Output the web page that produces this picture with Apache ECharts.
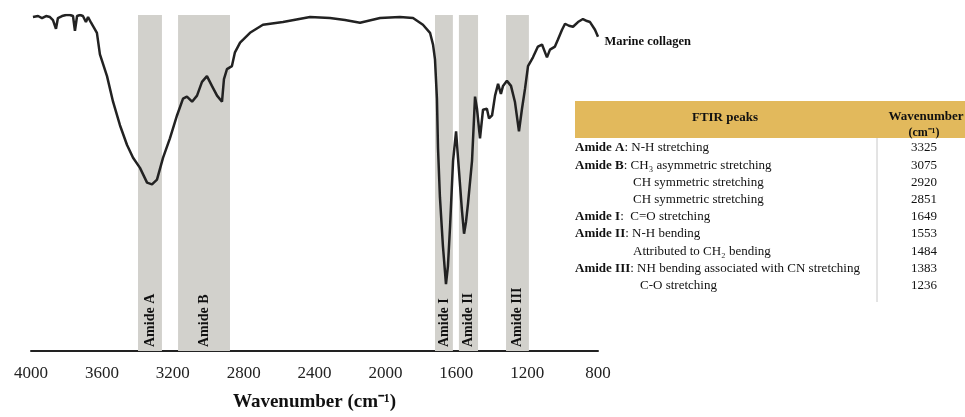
<!DOCTYPE html>
<html>
<head>
<meta charset="utf-8">
<script src="https://cdn.jsdelivr.net/npm/echarts@6/dist/echarts.min.js"></script>
<style>
    html, body { margin: 0; padding: 0; background: #fff; }
    #chart { width: 965px; height: 417px; }
</style>
</head>
<body>
<div id="chart"></div>
<script>
// spectrum (wavenumber cm-1 / relative transmittance)
const wavenumbers = [3989, 3960, 3938, 3915, 3893, 3876, 3859, 3848, 3825, 3802, 3780, 3763, 3752, 3740, 3723, 3707, 3690, 3678, 3661, 3644, 3628, 3611, 3571, 3537, 3498, 3458, 3424, 3385, 3345, 3317, 3289, 3255, 3216, 3176, 3142, 3120, 3091, 3063, 3035, 3007, 2979, 2950, 2922, 2911, 2894, 2866, 2849, 2820, 2764, 2691, 2578, 2425, 2313, 2228, 2143, 2030, 1918, 1844, 1788, 1748, 1731, 1720, 1709, 1703, 1692, 1675, 1658, 1647, 1635, 1618, 1601, 1590, 1568, 1556, 1545, 1534, 1511, 1494, 1483, 1466, 1449, 1427, 1415, 1398, 1381, 1364, 1348, 1336, 1314, 1291, 1269, 1246, 1229, 1212, 1195, 1167, 1139, 1116, 1088, 1071, 1043, 1026, 1003, 986, 964, 941, 913, 885, 862, 845, 817, 800]
const transmittance = [99.4, 99.7, 99.1, 99.7, 99.4, 98.5, 95.9, 99.1, 99.7, 100, 100, 99.7, 95.3, 99.7, 100, 99.7, 97.9, 99.4, 97.7, 96.2, 94.7, 88.3, 81.8, 74.2, 67.2, 61.3, 57.5, 54.5, 50.1, 49.6, 51.0, 57.5, 63.3, 70.1, 75.1, 75.7, 74.2, 76.0, 80.1, 81.8, 78.9, 76.0, 74.2, 80.9, 83.9, 84.8, 88.9, 91.8, 94.7, 97.1, 97.9, 99.4, 99.1, 98.5, 97.7, 99.1, 99.4, 99.1, 97.1, 94.7, 91.2, 86.8, 75.1, 60.4, 45.7, 31.1, 19.9, 25.2, 37.0, 56.6, 65.4, 57.5, 41.9, 34.9, 38.4, 43.7, 56.6, 75.7, 72.1, 63.3, 71.8, 72.1, 69.2, 70.1, 76.0, 79.5, 76.5, 78.9, 80.4, 78.9, 74.2, 65.4, 72.1, 78.0, 84.8, 87.4, 90.6, 91.2, 87.4, 89.7, 90.6, 92.7, 95.6, 97.4, 96.8, 96.5, 97.9, 98.8, 98.2, 97.9, 95.6, 93.5]

// shaded bands
const bandNames = ['Amide A', 'Amide B', 'Amide I', 'Amide II', 'Amide III']
const bandFrom = [3396, 3170, 1720, 1585, 1319]
const bandTo = [3261, 2877, 1619, 1477, 1190]

// table of peaks
const peakGroups = ['Amide A', 'Amide B', '', '', 'Amide I', 'Amide II', '', 'Amide III', '']
const peakModes = [': N-H stretching', ': CH₃ asymmetric stretching', 'CH symmetric stretching', 'CH symmetric stretching', ':  C=O stretching', ': N-H bending', 'Attributed to CH₂ bending', ': NH bending associated with CN stretching', 'C-O stretching']
const peakValues = [3325, 3075, 2920, 2851, 1649, 1553, 1484, 1383, 1236]

const serif = "'Liberation Serif', 'Times New Roman', serif"
const chart = echarts.init(document.getElementById('chart'))

const tableItems = [
    { type: 'rect', shape: { x: 575, y: 101, width: 400, height: 37 }, style: { fill: '#e2b95c' } },
    { type: 'text', x: 725, y: 118, style: { text: 'FTIR peaks', font: 'bold 13px ' + serif, fill: '#111', align: 'center', verticalAlign: 'middle' } },
    { type: 'text', x: 926, y: 117, style: { text: 'Wavenumber', font: 'bold 13px ' + serif, fill: '#111', align: 'center', verticalAlign: 'middle' } },
    { type: 'text', x: 924, y: 133, style: { text: '(cm⁻¹)', font: 'bold 12px ' + serif, fill: '#111', align: 'center', verticalAlign: 'middle' } },
    { type: 'line', shape: { x1: 877, y1: 138, x2: 877, y2: 302 }, style: { stroke: '#c8c8c8', lineWidth: 1 } },
]
peakModes.forEach((mode, i) => {
    const y = 148 + i * 17.2
    const group = peakGroups[i]
    let x = 575
    if (!group) x = i === 8 ? 640 : 633
    tableItems.push({
        type: 'text', x: x, y: y,
        style: {
            text: group ? '{b|' + group + '}' + mode : mode,
            font: '13px ' + serif, fill: '#111', verticalAlign: 'middle',
            rich: { b: { fontWeight: 'bold', fontSize: 13, fontFamily: serif, fill: '#111' } },
        },
    })
    tableItems.push({
        type: 'text', x: 924, y: y,
        style: { text: String(peakValues[i]), font: '13px ' + serif, fill: '#111', align: 'center', verticalAlign: 'middle' },
    })
})

const last = wavenumbers.length - 1

chart.setOption({
    animation: false,
    grid: { left: 31, right: 367, top: 15, bottom: 61 },
    xAxis: {
        type: 'value',
        inverse: true,
        min: 800,
        max: 4000,
        interval: 400,
        name: 'Wavenumber (cm⁻¹)',
        nameLocation: 'middle',
        nameGap: 42,
        nameTextStyle: { fontFamily: serif, fontSize: 19, fontWeight: 'bold', color: '#111' },
        axisLine: { lineStyle: { color: '#222', width: 2 } },
        axisTick: { show: false },
        splitLine: { show: false },
        axisLabel: { fontFamily: serif, fontSize: 17, color: '#222', margin: 14, formatter: v => String(v) },
    },
    yAxis: {
        type: 'value',
        min: 0,
        max: 100,
        show: false,
    },
    series: [
        {
            name: 'Marine collagen',
            type: 'line',
            data: wavenumbers.map((w, i) => [w, transmittance[i]]),
            showSymbol: false,
            lineStyle: { color: '#222', width: 2.5 },
            markPoint: {
                silent: true,
                symbol: 'circle',
                symbolSize: 1,
                itemStyle: { color: 'rgba(0,0,0,0)' },
                label: {
                    show: true,
                    position: 'right',
                    distance: 6,
                    offset: [0, 5],
                    formatter: 'Marine collagen',
                    fontFamily: serif,
                    fontSize: 12.5,
                    fontWeight: 'bold',
                    color: '#111',
                },
                data: [{ coord: [wavenumbers[last], transmittance[last]] }],
            },
            markArea: {
                silent: true,
                itemStyle: { color: '#d2d1cc' },
                label: {
                    show: true,
                    position: 'insideBottom',
                    rotate: 90,
                    align: 'left',
                    verticalAlign: 'middle',
                    distance: 4,
                    fontFamily: serif,
                    fontSize: 14,
                    fontWeight: 'bold',
                    color: '#111',
                },
                data: bandNames.map((n, i) => [
                    { name: n, xAxis: bandFrom[i] },
                    { xAxis: bandTo[i] },
                ]),
            },
        },
    ],
    graphic: tableItems,
})

window.addEventListener('resize', () => chart.resize())
</script>
</body>
</html>
